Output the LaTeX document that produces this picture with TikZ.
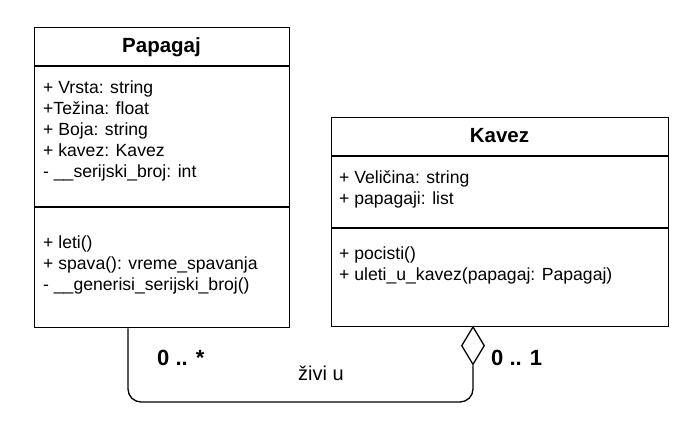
\documentclass[tikz,border=0pt]{standalone}
\usepackage{fontspec}
\setmainfont{Liberation Sans}
\usetikzlibrary{shapes.geometric}
\begin{document}
\begin{tikzpicture}[x=1pt,y=-1pt,
  box/.style={draw, line width=1.3pt, anchor=north west, inner sep=0},
  ttl/.style={font=\bfseries\fontsize{20.5}{24}\selectfont, inner sep=0},
  txt/.style={font=\fontsize{17.6}{21}\selectfont, anchor=base west, inner sep=0},
  mult/.style={font=\bfseries\fontsize{22}{26}\selectfont, anchor=base west, inner sep=0},
  lbl/.style={font=\fontsize{20}{24}\selectfont, anchor=base west, inner sep=0},
  conn/.style={line width=1.3pt}]
\useasboundingbox (0,0) rectangle (698,447);
% Papagaj
\node[box, minimum width=255pt, minimum height=300pt] (pap) at (34,27) {};
\draw[conn] ([yshift=-39pt]pap.north west) -- ([yshift=-39pt]pap.north east);
\draw[conn] ([yshift=-180pt]pap.north west) -- ([yshift=-180pt]pap.north east);
\node[ttl] (papt) at (161.5,47) {Papagaj};
\node[txt] (p1) at (43,93) {+ Vrsta: string};
\node[txt] (p2) at (43,114) {+Težina: float};
\node[txt] (p3) at (43,135) {+ Boja: string};
\node[txt] (p4) at (43,156) {+ kavez: Kavez};
\node[txt] (p5) at (43,177) {- \_\_serijski\_broj: int};
\node[txt] (p6) at (43,248) {+ leti()};
\node[txt] (p7) at (43,269) {+ spava(): vreme\_spavanja};
\node[txt] (p8) at (43,290) {- \_\_generisi\_serijski\_broj()};
% Kavez
\node[box, minimum width=337pt, minimum height=209pt] (kav) at (331,117) {};
\draw[conn] ([yshift=-39pt]kav.north west) -- ([yshift=-39pt]kav.north east);
\draw[conn] ([yshift=-111pt]kav.north west) -- ([yshift=-111pt]kav.north east);
\node[ttl] (kavt) at (499.5,136) {Kavez};
\node[txt] (k1) at (339,183) {+ Veličina: string};
\node[txt] (k2) at (339,204) {+ papagaji: list};
\node[txt] (k3) at (339,259) {+ pocisti()};
\node[txt] (k4) at (339,280) {+ uleti\_u\_kavez(papagaj: Papagaj)};
% association
\node[draw, conn, diamond, shape aspect=0.6, minimum width=23pt, minimum height=38pt, inner sep=0, anchor=north, fill=white] (dia) at (473,326) {};
\coordinate (c1) at (128,402);
\coordinate (c2) at (473,402);
\draw[conn, rounded corners=13pt] ([xshift=94pt]pap.south west) -- (c1) -- (c2) -- (dia.south);
\node[mult] (m1) at (157,365) {0 .. *};
\node[mult] (m2) at (491,365) {0 .. 1};
\node[lbl] (l1) at (298,380) {živi u};
\end{tikzpicture}
\end{document}
